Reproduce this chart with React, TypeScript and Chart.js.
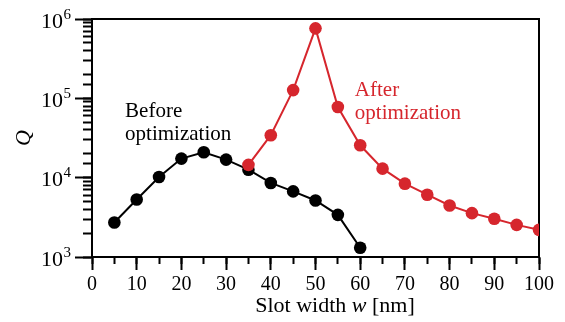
import React, { useEffect, useRef } from "react";
import { Chart, registerables } from "chart.js";

Chart.register(...registerables);

// ---- data ----
const beforeWidths = [5, 10, 15, 20, 25, 30, 35, 40, 45, 50, 55, 60];
const beforeQ = [2720, 5300, 10200, 17400, 20900, 16900, 12600, 8580, 6710, 5160, 3400, 1310];
const afterWidths = [35, 40, 45, 50, 55, 60, 65, 70, 75, 80, 85, 90, 95, 100];
const afterQ = [14500, 34300, 127000, 762000, 77600, 25600, 13000, 8400, 6100, 4460, 3570, 3030, 2540, 2200];

const xMin = 0;
const xMax = 100;
const xMajorStep = 10;
const xMinorStep = 5;
const yMin = 1e3;
const yMax = 1e6;

const yTitle = "Q";
const xTitleParts = [
  { text: "Slot width ", italic: false },
  { text: "w", italic: true },
  { text: " [nm]", italic: false },
];
const beforeLabel = ["Before", "optimization"];
const afterLabel = ["After", "optimization"];
const beforeLabelAnchor = { x: 7.4, y: 57400 };
const afterLabelAnchor = { x: 58.8, y: 107000 };

const RED = "#d6262d";
const FONT = '"Liberation Serif", "Times New Roman", serif';

const isPow10 = (v: number) => {
  const l = Math.log10(v);
  return Math.abs(l - Math.round(l)) < 1e-9;
};

const textPlugin = {
  id: "textPlugin",
  afterDraw(chart: any) {
    const { ctx, chartArea, scales } = chart;
    const xs = scales.x;
    const ys = scales.y;
    ctx.save();
    ctx.textBaseline = "alphabetic";
    ctx.textAlign = "left";

    // exponents of the y tick labels (10^n)
    ctx.fillStyle = "#000";
    ctx.font = `15px ${FONT}`;
    const labelRight = ys.right - ys.options.grid.tickLength - ys.options.ticks.padding;
    ys.ticks.forEach((t: any) => {
      const e = String(Math.round(Math.log10(t.value)));
      ctx.fillText(e, labelRight + 0.5, ys.getPixelForValue(t.value) - 0.5);
    });

    ctx.font = `21px ${FONT}`;
    const lineGap = 23;
    let bx = xs.getPixelForValue(beforeLabelAnchor.x);
    let by = ys.getPixelForValue(beforeLabelAnchor.y);
    beforeLabel.forEach((t, i) => ctx.fillText(t, bx, by + i * lineGap));
    ctx.fillStyle = RED;
    bx = xs.getPixelForValue(afterLabelAnchor.x);
    by = ys.getPixelForValue(afterLabelAnchor.y);
    afterLabel.forEach((t, i) => ctx.fillText(t, bx, by + i * lineGap));

    // x axis title with italic w
    ctx.fillStyle = "#000";
    const fonts = xTitleParts.map((p) => (p.italic ? `italic 22px ${FONT}` : `22px ${FONT}`));
    const widths = xTitleParts.map((p, i) => {
      ctx.font = fonts[i];
      return ctx.measureText(p.text).width;
    });
    const total = widths.reduce((a, b) => a + b, 0);
    const cx = (chartArea.left + chartArea.right) / 2 + 19.5;
    let x = cx - total / 2;
    const y = chartArea.bottom + 55;
    xTitleParts.forEach((p, i) => {
      ctx.font = fonts[i];
      ctx.fillText(p.text, x, y);
      x += widths[i];
    });
    ctx.restore();
  },
};

export default function App() {
  const ref = useRef<HTMLCanvasElement | null>(null);
  useEffect(() => {
    if (!ref.current) return;
    const chart = new Chart(ref.current, {
      type: "line",
      data: {
        datasets: [
          {
            label: "After optimization",
            data: afterWidths.map((w, i) => ({ x: w, y: afterQ[i] })),
            borderColor: RED,
            backgroundColor: RED,
            pointBackgroundColor: RED,
            pointBorderWidth: 0,
            pointRadius: 6.3,
            borderWidth: 2,
            tension: 0,
            clip: 0,
            order: 1,
            xAxisID: "x",
            yAxisID: "y",
          },
          {
            label: "Before optimization",
            data: beforeWidths.map((w, i) => ({ x: w, y: beforeQ[i] })),
            borderColor: "#000",
            backgroundColor: "#000",
            pointBackgroundColor: "#000",
            pointBorderWidth: 0,
            pointRadius: 6.3,
            borderWidth: 2,
            tension: 0,
            order: 2,
            xAxisID: "x",
            yAxisID: "y",
          },
        ],
      },
      options: {
        animation: false,
        responsive: false,
        devicePixelRatio: 1,
        layout: { padding: { left: 0, top: 19, right: 26, bottom: 0 } },
        plugins: { legend: { display: false }, tooltip: { enabled: false } },
        scales: {
          x: {
            type: "linear",
            axis: "x",
            position: "bottom",
            weight: 1,
            min: xMin,
            max: xMax,
            ticks: {
              stepSize: xMajorStep,
              color: "#000",
              font: { family: FONT, size: 20 },
              padding: 3,
              maxRotation: 0,
              autoSkip: false,
            },
            grid: { drawOnChartArea: false, drawTicks: true, tickLength: 13, tickWidth: 2, tickColor: "#000" },
            border: { display: true, color: "#000", width: 2 },
            afterFit: (s: any) => { s.height = 65; s.paddingLeft = 0; s.paddingRight = 0; },
          },
          xMinor: {
            type: "linear",
            axis: "x",
            position: "bottom",
            weight: 0,
            min: xMin,
            max: xMax,
            ticks: { display: false, stepSize: xMinorStep, autoSkip: false },
            grid: { drawOnChartArea: false, drawTicks: true, tickLength: 7, tickWidth: 2, tickColor: "#000" },
            border: { display: false },
            afterFit: (s: any) => { s.height = 0; },
          },
          xTop: {
            type: "linear",
            axis: "x",
            position: "top",
            min: xMin,
            max: xMax,
            ticks: { display: false },
            grid: { display: false, drawOnChartArea: false, drawTicks: false },
            border: { display: true, color: "#000", width: 2 },
            afterFit: (s: any) => { s.height = 0; },
          },
          y: {
            type: "logarithmic",
            axis: "y",
            position: "left",
            weight: 1,
            min: yMin,
            max: yMax,
            afterBuildTicks: (s: any) => {
              s.ticks = s.ticks.filter((t: any) => isPow10(t.value));
            },
            ticks: {
              autoSkip: false,
              color: "#000",
              font: { family: FONT, size: 22 },
              padding: 12,
              labelOffset: 3,
              callback: () => "10",
            },
            grid: { drawOnChartArea: false, drawTicks: true, tickLength: 17, tickWidth: 2, tickColor: "#000" },
            border: { display: true, color: "#000", width: 2 },
            title: {
              display: true,
              text: yTitle,
              color: "#000",
              font: { family: FONT, size: 22, style: "italic" },
              padding: { top: 11, bottom: 0 },
            },
            afterFit: (s: any) => { s.width = 92; s.paddingTop = 0; s.paddingBottom = 0; },
          },
          yMinor: {
            type: "logarithmic",
            axis: "y",
            position: "left",
            weight: 0,
            min: yMin,
            max: yMax,
            ticks: { display: false, autoSkip: false },
            grid: { drawOnChartArea: false, drawTicks: true, tickLength: 9, tickWidth: 2, tickColor: "#000" },
            border: { display: false },
            afterFit: (s: any) => { s.width = 0; },
          },
          yRight: {
            type: "logarithmic",
            axis: "y",
            position: "right",
            min: yMin,
            max: yMax,
            ticks: { display: false },
            grid: { display: false, drawOnChartArea: false, drawTicks: false },
            border: { display: true, color: "#000", width: 2 },
            afterFit: (s: any) => { s.width = 0; },
          },
        },
      },
      plugins: [textPlugin],
    } as any);
    return () => chart.destroy();
  }, []);
  return (
    <div style={{ position: "absolute", left: 0, top: 0, width: 565, height: 322, background: "#fff" }}>
      <canvas ref={ref} width={565} height={322} />
    </div>
  );
}
